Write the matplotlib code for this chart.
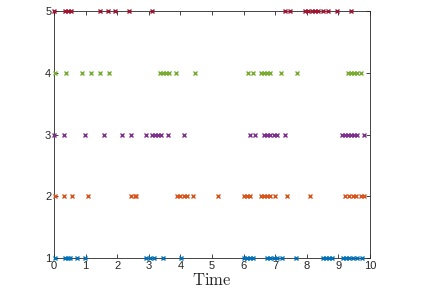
import matplotlib.pyplot as plt

plt.rcParams['mathtext.fontset'] = 'cm'
plt.rcParams['font.family'] = ['Liberation Sans', 'DejaVu Sans']

# Event times per row
t1 = [0.03, 0.35, 0.45, 0.5, 0.74, 0.98, 2.9, 3.05, 3.15, 3.46, 4.02,
      6.0, 6.1, 6.2, 6.3, 6.75, 6.85, 6.95, 7.05, 7.2, 7.65,
      8.5, 8.6, 8.7, 8.8, 9.15, 9.25, 9.35, 9.45, 9.6, 9.75]
t2 = [0.03, 0.33, 0.56, 1.07, 2.45, 2.55, 2.6, 3.9, 4.0, 4.1, 4.2, 4.41, 5.18,
      6.0, 6.1, 6.2, 6.55, 6.65, 6.75, 6.85, 7.0, 7.36, 8.1,
      9.2, 9.35, 9.45, 9.55, 9.7, 9.8]
t3 = [0.01, 0.32, 0.98, 1.58, 2.14, 2.43, 2.91, 3.1, 3.2, 3.3, 3.4, 3.62, 4.12,
      6.2, 6.36, 6.65, 6.75, 6.85, 6.95, 7.05, 7.31,
      9.1, 9.2, 9.3, 9.4, 9.5, 9.6, 9.82]
t4 = [0.03, 0.38, 0.88, 1.16, 1.46, 1.74, 3.35, 3.45, 3.55, 3.65, 3.86, 4.46,
      6.15, 6.3, 6.55, 6.65, 6.75, 6.85, 7.17, 7.7,
      9.3, 9.4, 9.5, 9.6, 9.7]
t5 = [0.01, 0.35, 0.45, 0.53, 1.46, 1.72, 1.93, 2.38, 3.09,
      7.31, 7.47, 7.94, 8.05, 8.15, 8.26, 8.36, 8.5, 8.68, 8.95, 9.39]

rows = [t1, t2, t3, t4, t5]
levels = [1, 2, 3, 4, 5]
colors = ['#0072BD', '#D95319', '#7E2F8E', '#77AC30', '#A2142F']

fig = plt.figure(figsize=(4.27, 3.03), dpi=100)
ax = fig.add_axes([0.1265, 0.1485, 0.74, 0.815])

for t, lv, c in zip(rows, levels, colors):
    ax.plot(t, [lv] * len(t), 'x', color=c, markersize=3.5,
            markeredgewidth=1.0, clip_on=False, zorder=3)

ax.set_xlim(0, 10)
ax.set_ylim(1, 5)
ax.set_xticks(range(0, 11))
ax.set_yticks(levels)
ax.tick_params(direction='in', length=3, width=0.6, colors='#262626',
               labelsize=8, top=True, right=True, pad=2)
for s in ax.spines.values():
    s.set_linewidth(0.6)
    s.set_color('#262626')
ax.set_xlabel(r'$\mathrm{Time}$', fontsize=12, color='#262626', labelpad=1)

fig.savefig('out.png', dpi=100)
